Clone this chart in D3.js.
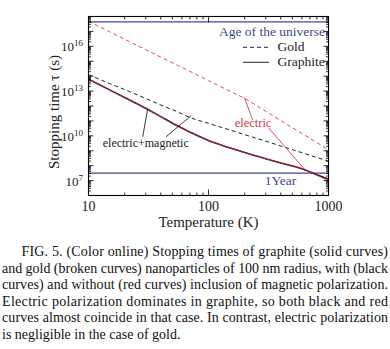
<!DOCTYPE html>
<html>
<head>
<meta charset="utf-8">
<script src="https://cdn.jsdelivr.net/npm/d3@7"></script>
</head>
<body style="margin:0">
<svg id="chart" width="390" height="349"></svg>
<script>
// temperatures (K)
const temps = [10, 15, 20, 30, 40, 55, 70, 100, 150, 200, 300, 400, 600, 800, 1000]

// stopping times (s)
const goldElectric = [4.8e17, 9.5e16, 3.0e16, 6.0e15, 1.9e15, 5.4e14, 2.1e14, 5.0e13, 1.0e13, 3.2e12, 4.4e11, 1.05e11, 1.45e10, 3.5e9, 1.2e9]
const goldElecMag = [1.26e14, 3.2e13, 1.26e13, 3.2e12, 1.17e12, 4.1e11, 1.7e11, 6.9e10, 2.5e10, 1.2e10, 4.4e9, 2.1e9, 7.4e8, 3.5e8, 2.0e8]
const graphiteElecMag = [6.3e13, 1.2e13, 3.7e12, 7.1e11, 1.95e11, 4.7e10, 1.78e10, 4.8e9, 1.58e9, 7.6e8, 2.9e8, 1.5e8, 6.2e7, 2.5e7, 1.23e7]
const graphiteElectric = [6.3e13, 1.2e13, 3.7e12, 7.1e11, 1.95e11, 4.7e10, 1.78e10, 4.8e9, 1.58e9, 7.6e8, 2.9e8, 1.5e8, 6.2e7, 2.3e7, 9.5e6]

const ageOfUniverse = 4.35e17
const oneYear = 3.156e7

const xTickLabels = [10, 100, 1000]
const yTickLabels = [7, 10, 13, 16]

const captionLines = [
  "FIG. 5. (Color online) Stopping times of graphite (solid curves)",
  "and gold (broken curves) nanoparticles of 100 nm radius, with (black",
  "curves) and without (red curves) inclusion of magnetic polarization.",
  "Electric polarization dominates in graphite, so both black and red",
  "curves almost coincide in that case. In contrast, electric polarization",
  "is negligible in the case of gold."
]

const blue = "#3d4a8c"
const red = "#d23a4a"

const svg = d3.select("#chart")
const pLeft = 88.5, pRight = 328.5, pTop = 16.5, pBottom = 195.5

const x = d3.scaleLog().domain([10, 1000]).range([pLeft, pRight])
const y = d3.scaleLog().domain([1e6, 1e18]).range([pBottom, pTop])

const clip = svg.append("clipPath").attr("id", "plot")
clip.append("rect").attr("x", pLeft).attr("y", pTop).attr("width", pRight - pLeft).attr("height", pBottom - pTop)

const plot = svg.append("g").attr("clip-path", "url(#plot)")

const line = (vals) => d3.line()
  .x((d, i) => x(temps[i]))
  .y(d => y(d))
  .curve(d3.curveMonotoneX)(vals)

// reference lines
plot.selectAll("line.ref")
  .data([ageOfUniverse, oneYear])
  .enter()
  .append("line")
  .attr("x1", pLeft).attr("x2", pRight)
  .attr("y1", d => y(d)).attr("y2", d => y(d))
  .attr("stroke", blue).attr("stroke-width", 1.2)

plot.append("path").attr("d", line(goldElectric))
  .attr("fill", "none").attr("stroke", red).attr("stroke-width", 0.9).attr("stroke-dasharray", "4,3")
plot.append("path").attr("d", line(goldElecMag))
  .attr("fill", "none").attr("stroke", "#222").attr("stroke-width", 1).attr("stroke-dasharray", "4,3")
plot.append("path").attr("d", line(graphiteElecMag))
  .attr("fill", "none").attr("stroke", "#3a0c12").attr("stroke-width", 1.6)
plot.append("path").attr("d", line(graphiteElectric))
  .attr("fill", "none").attr("stroke", red).attr("stroke-width", 0.9).attr("stroke-opacity", 0.7)

// pointer lines [T1, tau1, T2, tau2]
const pointers = [
  [28.3, 8.7e9, 31.1, 6.3e11, "#222"],
  [44.3, 8.7e9, 71.5, 2.2e11, "#222"],
  [233, 1.15e11, 199, 3.8e12, red],
  [317, 3.4e10, 628, 6.0e7, red]
]
plot.selectAll("line.ptr")
  .data(pointers)
  .enter()
  .append("line")
  .attr("x1", d => x(d[0])).attr("y1", d => y(d[1]))
  .attr("x2", d => x(d[2])).attr("y2", d => y(d[3]))
  .attr("stroke", d => d[4]).attr("stroke-width", 0.9)

const label = (px, py, txt, size, color, anchor) =>
  svg.append("text").attr("x", px).attr("y", py)
    .attr("text-anchor", anchor || "start")
    .attr("font-size", size).attr("fill", color)
    .attr("font-family", "Liberation Serif")
    .style("font-family", '"Liberation Serif", monospace')
    .text(txt)

// annotations
label(x(30), y(1.7e9), "electric+magnetic", 12, "#222", "middle")
label(x(235), y(4.1e10), "electric", 12.5, red, "middle")
label(x(398), y(5.2e6), "1Year", 13.5, blue, "middle")

// legend
label(325, 36, "Age of the universe", 13.5, blue, "end")
svg.append("line").attr("x1", 243).attr("x2", 269).attr("y1", 47.3).attr("y2", 47.3)
  .attr("stroke", "#222").attr("stroke-dasharray", "4,3")
svg.append("line").attr("x1", 243).attr("x2", 269).attr("y1", 62.3).attr("y2", 62.3)
  .attr("stroke", "#222")
label(277.5, 51, "Gold", 13.5, "#222")
label(277.5, 66, "Graphite", 13.5, "#222")

// ticks
const xMinor = []
for (const base of [10, 100]) for (let k = 2; k <= 9; k++) xMinor.push(base * k)
const yMajor = d3.range(6, 19).map(e => Math.pow(10, e))
const yMinor = []
for (let e = 6; e < 18; e++) for (let k = 2; k <= 9; k++) yMinor.push(k * Math.pow(10, e))

const ticks = svg.append("g").attr("stroke", "#000").attr("stroke-width", 0.8)
xTickLabels.concat(xMinor).forEach(t => {
  const len = xTickLabels.includes(t) ? 6 : 3
  ticks.append("line").attr("x1", x(t)).attr("x2", x(t)).attr("y1", pBottom).attr("y2", pBottom - len)
  ticks.append("line").attr("x1", x(t)).attr("x2", x(t)).attr("y1", pTop).attr("y2", pTop + len)
})
yMajor.concat(yMinor).forEach(t => {
  const len = yMajor.includes(t) ? 5 : 2.5
  ticks.append("line").attr("y1", y(t)).attr("y2", y(t)).attr("x1", pLeft).attr("x2", pLeft + len)
  ticks.append("line").attr("y1", y(t)).attr("y2", y(t)).attr("x1", pRight).attr("x2", pRight - len)
})

svg.append("rect").attr("x", pLeft).attr("y", pTop).attr("width", pRight - pLeft).attr("height", pBottom - pTop)
  .attr("fill", "none").attr("stroke", "#000").attr("stroke-width", 1.1)

xTickLabels.forEach(t => label(x(t), 211, String(t), 14, "#222", "middle"))

yTickLabels.forEach(e => {
  const t = label(83, y(Math.pow(10, e)) + 5, "", 13, "#222", "end")
  t.append("tspan").text("10")
  t.append("tspan").attr("dy", -5).attr("font-size", 9).text(e)
})

label((pLeft + pRight) / 2, 227, "Temperature (K)", 15, "#222", "middle")
label(0, 0, "Stopping time τ (s)", 15, "#222", "middle")
  .attr("transform", "translate(59,112) rotate(-90)")

// caption
captionLines.forEach((d, i) => {
  const t = label(i === 0 ? 21.5 : 2, 256 + i * 16.6, d, 14, "#111")
  if (i < captionLines.length - 1) {
    t.attr("textLength", i === 0 ? 366.5 : 386).attr("lengthAdjust", "spacing")
  }
})
</script>
</body>
</html>
